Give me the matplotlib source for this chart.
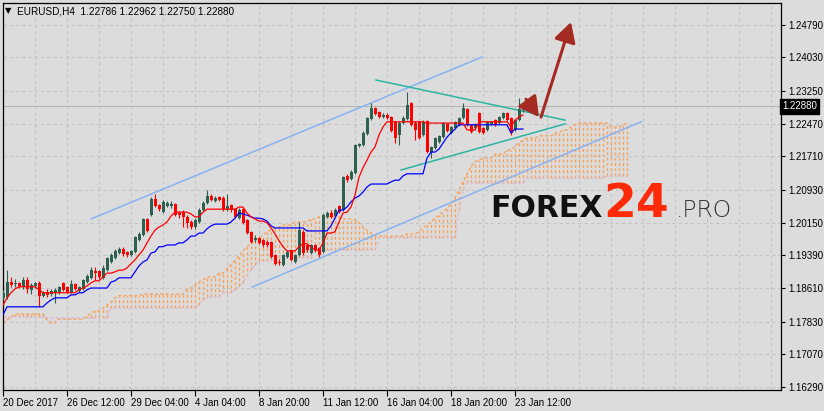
import matplotlib

matplotlib.use("Agg")
import matplotlib.pyplot as plt
import numpy as np

BG = "#dcdcdc"
GRID = "#c2c2c2"
BULL = "#2e5f4f"
BEAR = "#ff0000"

header_text = "EURUSD,H4  1.22786 1.22962 1.22750 1.22880"
last_price = 1.22880

date_ticks = [0, 16, 32, 48, 64, 80, 96, 112, 128]
date_labels = ["20 Dec 2017", "26 Dec 12:00", "29 Dec 04:00", "4 Jan 04:00", "8 Jan 20:00",
               "11 Jan 12:00", "16 Jan 04:00", "18 Jan 20:00", "23 Jan 12:00"]
price_ticks = [1.16290, 1.17070, 1.17830, 1.18610, 1.19390, 1.20150,
               1.20930, 1.21710, 1.22470, 1.23250, 1.24030, 1.24790]

opens = [
    1.1839, 1.1841, 1.1876, 1.1872, 1.1874, 1.1865, 1.1881, 1.1858, 1.1867, 1.1874,
    1.1844, 1.1853, 1.1848, 1.1851, 1.1851, 1.1874, 1.1865, 1.1853, 1.1872, 1.1855,
    1.1860, 1.1876, 1.1886, 1.1902, 1.1902, 1.1886, 1.1904, 1.1923, 1.1933, 1.1944,
    1.1954, 1.1947, 1.1940, 1.1947, 1.1975, 1.1987, 1.2024, 1.2033, 1.2071, 1.2057,
    1.2040, 1.2054, 1.2054, 1.2059, 1.2038, 1.2040, 1.2029, 1.2017, 1.2005, 1.2017,
    1.2045, 1.2061, 1.2078, 1.2066, 1.2075, 1.2073, 1.2045, 1.2057, 1.2047, 1.2026,
    1.2047, 1.2022, 1.1994, 1.1975, 1.1980, 1.1975, 1.1970, 1.1970, 1.1940, 1.1923,
    1.1916, 1.1935, 1.1951, 1.1923, 1.1940, 1.1994, 1.1963, 1.1944, 1.1963, 1.1956,
    1.1947, 1.2029, 1.2038, 1.2031, 1.2054, 1.2045, 1.2125, 1.2118, 1.2132, 1.2195,
    1.2198, 1.2223, 1.2259, 1.2284, 1.2275, 1.2263, 1.2268, 1.2263, 1.2252, 1.2221,
    1.2249, 1.2259, 1.2296, 1.2249, 1.2252, 1.2221, 1.2254, 1.2181, 1.2190, 1.2205,
    1.2216, 1.2247, 1.2226, 1.2237, 1.2245, 1.2261, 1.2282, 1.2245, 1.2237, 1.2273,
    1.2237, 1.2233, 1.2247, 1.2256, 1.2249, 1.2261, 1.2273, 1.2261, 1.2233, 1.2256,
    1.22786,
]
highs = [
    1.1858, 1.1904, 1.1888, 1.1883, 1.1876, 1.1888, 1.1888, 1.1874, 1.1876, 1.1879,
    1.1855, 1.1860, 1.1860, 1.1862, 1.1867, 1.1876, 1.1867, 1.1881, 1.1874, 1.1867,
    1.1883, 1.1895, 1.1912, 1.1912, 1.1904, 1.1916, 1.1935, 1.1944, 1.1954, 1.1959,
    1.1959, 1.1949, 1.1951, 1.1984, 1.1994, 1.2026, 1.2026, 1.2075, 1.2082, 1.2059,
    1.2068, 1.2066, 1.2066, 1.2061, 1.2043, 1.2045, 1.2033, 1.2022, 1.2026, 1.2050,
    1.2066, 1.2092, 1.2082, 1.2078, 1.2078, 1.2078, 1.2082, 1.2059, 1.2050, 1.2050,
    1.2050, 1.2024, 1.1996, 1.1987, 1.1982, 1.1977, 1.1975, 1.1973, 1.1942, 1.1930,
    1.1942, 1.1951, 1.1954, 1.1942, 1.2017, 1.1998, 1.1966, 1.1966, 1.1966, 1.1959,
    1.2038, 1.2043, 1.2045, 1.2050, 1.2057, 1.2125, 1.2130, 1.2139, 1.2200, 1.2202,
    1.2230, 1.2263, 1.2296, 1.2287, 1.2277, 1.2273, 1.2273, 1.2266, 1.2254, 1.2254,
    1.2266, 1.2322, 1.2298, 1.2254, 1.2254, 1.2256, 1.2256, 1.2195, 1.2216, 1.2221,
    1.2252, 1.2249, 1.2242, 1.2254, 1.2263, 1.2296, 1.2284, 1.2247, 1.2249, 1.2275,
    1.2240, 1.2254, 1.2254, 1.2259, 1.2266, 1.2275, 1.2275, 1.2263, 1.2259, 1.2308,
    1.22962,
]
lows = [
    1.1834, 1.1836, 1.1865, 1.1865, 1.1862, 1.1860, 1.1851, 1.1848, 1.1862, 1.1818,
    1.1841, 1.1841, 1.1844, 1.1827, 1.1848, 1.1855, 1.1851, 1.1851, 1.1858, 1.1853,
    1.1858, 1.1874, 1.1883, 1.1881, 1.1883, 1.1883, 1.1902, 1.1921, 1.1930, 1.1942,
    1.1937, 1.1935, 1.1937, 1.1944, 1.1973, 1.1984, 1.1994, 1.2031, 1.2052, 1.2043,
    1.2038, 1.2052, 1.2050, 1.2031, 1.2026, 1.2005, 1.2003, 1.2001, 1.2001, 1.2015,
    1.2043, 1.2059, 1.2066, 1.2064, 1.2066, 1.2043, 1.2043, 1.2040, 1.2026, 1.2024,
    1.2012, 1.1989, 1.1968, 1.1970, 1.1966, 1.1959, 1.1959, 1.1933, 1.1916, 1.1916,
    1.1914, 1.1933, 1.1926, 1.1921, 1.1937, 1.1940, 1.1947, 1.1942, 1.1947, 1.1935,
    1.1944, 1.2026, 1.2026, 1.2029, 1.2038, 1.2043, 1.2111, 1.2115, 1.2130, 1.2193,
    1.2195, 1.2221, 1.2256, 1.2268, 1.2261, 1.2261, 1.2259, 1.2228, 1.2202, 1.2198,
    1.2247, 1.2256, 1.2242, 1.2209, 1.2212, 1.2219, 1.2179, 1.2167, 1.2188, 1.2202,
    1.2214, 1.2228, 1.2223, 1.2235, 1.2242, 1.2259, 1.2242, 1.2226, 1.2233, 1.2226,
    1.2223, 1.2230, 1.2245, 1.2242, 1.2247, 1.2259, 1.2254, 1.2221, 1.2230, 1.2254,
    1.22750,
]
closes = [
    1.1851, 1.1876, 1.1869, 1.1874, 1.1867, 1.1881, 1.1860, 1.1869, 1.1874, 1.1844,
    1.1851, 1.1846, 1.1855, 1.1858, 1.1865, 1.1858, 1.1853, 1.1872, 1.1860, 1.1865,
    1.1881, 1.1890, 1.1904, 1.1897, 1.1888, 1.1909, 1.1933, 1.1940, 1.1949, 1.1954,
    1.1942, 1.1940, 1.1949, 1.1982, 1.1989, 1.2024, 1.1996, 1.2071, 1.2054, 1.2047,
    1.2064, 1.2061, 1.2059, 1.2033, 1.2033, 1.2029, 1.2015, 1.2005, 1.2022, 1.2045,
    1.2061, 1.2078, 1.2068, 1.2073, 1.2068, 1.2047, 1.2054, 1.2045, 1.2029, 1.2045,
    1.2015, 1.1991, 1.1970, 1.1980, 1.1968, 1.1963, 1.1963, 1.1935, 1.1919, 1.1921,
    1.1940, 1.1947, 1.1928, 1.1940, 1.1998, 1.1944, 1.1951, 1.1963, 1.1951, 1.1940,
    1.2033, 1.2038, 1.2029, 1.2045, 1.2040, 1.2122, 1.2115, 1.2134, 1.2198, 1.2200,
    1.2226, 1.2261, 1.2284, 1.2270, 1.2263, 1.2268, 1.2261, 1.2230, 1.2214, 1.2249,
    1.2261, 1.2291, 1.2245, 1.2233, 1.2214, 1.2252, 1.2181, 1.2193, 1.2214, 1.2219,
    1.2249, 1.2230, 1.2240, 1.2252, 1.2261, 1.2284, 1.2245, 1.2228, 1.2247, 1.2228,
    1.2226, 1.2252, 1.2252, 1.2245, 1.2263, 1.2273, 1.2256, 1.2226, 1.2256, 1.2282,
    1.22880,
]

tenkan = [
    1.1822, 1.1839, 1.1851, 1.1860, 1.1865, 1.1865, 1.1865, 1.1865, 1.1865, 1.1858,
    1.1851, 1.1851, 1.1851, 1.1851, 1.1851, 1.1851, 1.1851, 1.1851, 1.1851, 1.1858,
    1.1862, 1.1867, 1.1874, 1.1879, 1.1879, 1.1888, 1.1897, 1.1897, 1.1900, 1.1904,
    1.1904, 1.1909, 1.1919, 1.1928, 1.1940, 1.1951, 1.1968, 1.1984, 1.1998, 1.2005,
    1.2010, 1.2017, 1.2031, 1.2040, 1.2040, 1.2040, 1.2040, 1.2036, 1.2029, 1.2029,
    1.2040, 1.2047, 1.2047, 1.2047, 1.2047, 1.2047, 1.2047, 1.2047, 1.2047, 1.2052,
    1.2052, 1.2038, 1.2029, 1.2024, 1.2019, 1.2019, 1.2015, 1.2003, 1.1989, 1.1973,
    1.1959, 1.1949, 1.1949, 1.1949, 1.1959, 1.1966, 1.1966, 1.1959, 1.1951, 1.1951,
    1.1968, 1.1991, 1.1991, 1.1994, 1.2017, 1.2038, 1.2040, 1.2052, 1.2080, 1.2122,
    1.2144, 1.2162, 1.2181, 1.2193, 1.2221, 1.2240, 1.2252, 1.2252, 1.2252, 1.2252,
    1.2252, 1.2252, 1.2252, 1.2252, 1.2252, 1.2252, 1.2249, 1.2249, 1.2249, 1.2249,
    1.2249, 1.2249, 1.2249, 1.2249, 1.2249, 1.2249, 1.2233, 1.2233, 1.2233, 1.2252,
    1.2252, 1.2252, 1.2252, 1.2252, 1.2252, 1.2252, 1.2252, 1.2240, 1.2256, 1.2263,
    1.2268,
]
kijun = [
    1.1799, 1.1818, 1.1818, 1.1818, 1.1818, 1.1818, 1.1818, 1.1818, 1.1818, 1.1818,
    1.1818, 1.1827, 1.1834, 1.1839, 1.1839, 1.1839, 1.1839, 1.1846, 1.1846, 1.1851,
    1.1851, 1.1858, 1.1862, 1.1862, 1.1862, 1.1862, 1.1862, 1.1876, 1.1879, 1.1886,
    1.1886, 1.1886, 1.1886, 1.1900, 1.1914, 1.1923, 1.1928, 1.1944, 1.1947, 1.1959,
    1.1959, 1.1963, 1.1963, 1.1963, 1.1968, 1.1968, 1.1975, 1.1984, 1.1984, 1.1991,
    1.1991, 1.2001, 1.2008, 1.2012, 1.2012, 1.2012, 1.2012, 1.2017, 1.2026, 1.2038,
    1.2036, 1.2033, 1.2029, 1.2026, 1.2026, 1.2024, 1.2019, 1.2008, 1.2003, 1.2003,
    1.2003, 1.2003, 1.2003, 1.2003, 1.2003, 1.2003, 1.1996, 1.1996, 1.1996, 1.1996,
    1.1996, 1.1996, 1.2008, 1.2026, 1.2045, 1.2045, 1.2052, 1.2064, 1.2073, 1.2078,
    1.2087, 1.2099, 1.2106, 1.2106, 1.2106, 1.2106, 1.2106, 1.2111, 1.2115, 1.2115,
    1.2125, 1.2130, 1.2130, 1.2130, 1.2130, 1.2130, 1.2167, 1.2181, 1.2181, 1.2188,
    1.2202, 1.2216, 1.2226, 1.2235, 1.2245, 1.2245, 1.2245, 1.2245, 1.2245, 1.2245,
    1.2245, 1.2245, 1.2245, 1.2245, 1.2245, 1.2245, 1.2245, 1.2226, 1.2235, 1.2235,
    1.2235,
]
# cloud lines run 26 bars past the last candle
senkou_a = [
    1.1780, 1.1787, 1.1794, 1.1801, 1.1801, 1.1801, 1.1801, 1.1801, 1.1801, 1.1801,
    1.1801, 1.1787, 1.1780, 1.1780, 1.1789, 1.1789, 1.1789, 1.1789, 1.1789, 1.1789,
    1.1789, 1.1796, 1.1803, 1.1808, 1.1808, 1.1815, 1.1822, 1.1829, 1.1839, 1.1844,
    1.1844, 1.1844, 1.1844, 1.1844, 1.1844, 1.1848, 1.1848, 1.1848, 1.1848, 1.1848,
    1.1848, 1.1848, 1.1848, 1.1848, 1.1848, 1.1848, 1.1858, 1.1862, 1.1869, 1.1876,
    1.1881, 1.1888, 1.1888, 1.1888, 1.1897, 1.1897, 1.1907, 1.1916, 1.1928, 1.1937,
    1.1949, 1.1959, 1.1966, 1.1973, 1.1980, 1.1987, 1.1994, 1.1998, 1.2003, 1.2005,
    1.2010, 1.2010, 1.2010, 1.2017, 1.2017, 1.2017, 1.2017, 1.2024, 1.2024, 1.2029,
    1.2029, 1.2029, 1.2029, 1.2029, 1.2029, 1.2024, 1.2024, 1.2024, 1.2022, 1.2015,
    1.2005, 1.1998, 1.1991, 1.1984, 1.1984, 1.1984, 1.1984, 1.1984, 1.1984, 1.1984,
    1.1984, 1.1989, 1.1989, 1.1989, 1.1994, 1.2003, 1.2010, 1.2017, 1.2026, 1.2033,
    1.2040, 1.2050, 1.2059, 1.2073, 1.2092, 1.2111, 1.2130, 1.2148, 1.2158, 1.2162,
    1.2167, 1.2167, 1.2167, 1.2176, 1.2176, 1.2176, 1.2186, 1.2186, 1.2195, 1.2202,
    1.2209, 1.2214, 1.2214, 1.2214, 1.2219, 1.2219, 1.2219, 1.2219, 1.2226, 1.2226,
    1.2233, 1.2233, 1.2240, 1.2245, 1.2249, 1.2249, 1.2249, 1.2249, 1.2249, 1.2249,
    1.2249, 1.2249, 1.2240, 1.2240, 1.2240, 1.2245, 1.2249,
]
senkou_b = [
    1.1794, 1.1794, 1.1794, 1.1794, 1.1794, 1.1794, 1.1794, 1.1794, 1.1794, 1.1794,
    1.1794, 1.1792, 1.1792, 1.1792, 1.1792, 1.1792, 1.1792, 1.1792, 1.1792, 1.1792,
    1.1792, 1.1792, 1.1792, 1.1792, 1.1792, 1.1792, 1.1792, 1.1815, 1.1815, 1.1815,
    1.1815, 1.1815, 1.1815, 1.1815, 1.1815, 1.1815, 1.1815, 1.1815, 1.1815, 1.1815,
    1.1815, 1.1815, 1.1815, 1.1815, 1.1815, 1.1815, 1.1815, 1.1815, 1.1815, 1.1822,
    1.1834, 1.1841, 1.1841, 1.1841, 1.1841, 1.1851, 1.1851, 1.1851, 1.1858, 1.1867,
    1.1874, 1.1890, 1.1904, 1.1916, 1.1926, 1.1926, 1.1926, 1.1926, 1.1933, 1.1933,
    1.1933, 1.1933, 1.1933, 1.1933, 1.1933, 1.1933, 1.1933, 1.1933, 1.1951, 1.1951,
    1.1951, 1.1951, 1.1951, 1.1951, 1.1951, 1.1951, 1.1951, 1.1951, 1.1951, 1.1951,
    1.1951, 1.1951, 1.1951, 1.1951, 1.1980, 1.1980, 1.1980, 1.1980, 1.1980, 1.1980,
    1.1980, 1.1980, 1.1980, 1.1980, 1.1980, 1.1980, 1.1980, 1.1980, 1.1980, 1.1980,
    1.1980, 1.1980, 1.1980, 1.1980, 1.2045, 1.2092, 1.2108, 1.2108, 1.2108, 1.2108,
    1.2108, 1.2108, 1.2108, 1.2108, 1.2108, 1.2108, 1.2108, 1.2108, 1.2108, 1.2108,
    1.2108, 1.2120, 1.2120, 1.2120, 1.2120, 1.2120, 1.2120, 1.2120, 1.2120, 1.2120,
    1.2120, 1.2120, 1.2120, 1.2120, 1.2120, 1.2120, 1.2120, 1.2120, 1.2120, 1.2120,
    1.2120, 1.2125, 1.2125, 1.2125, 1.2125, 1.2125, 1.2125,
]

# hand-drawn objects: (bar, price) end points
channel_top = ([22.0, 119.75], [1.2024, 1.2404])
channel_bottom = ([62.25, 159.5], [1.1864, 1.2252])
triangle_top = ([93.25, 140.5], [1.2350, 1.2256])
triangle_bottom = ([99.5, 140.5], [1.2139, 1.2247])
arrow_short = ((130.75, 1.2305), (134.0, 1.2263))
arrow_long = ((134.5, 1.2263), (142.0, 1.2486))


def draw_candles(ax):
    o, h, l, c = (np.array(v) for v in (opens, highs, lows, closes))
    x = np.arange(len(c))
    up = c >= o
    for mask, colour in ((up, BULL), (~up, BEAR)):
        ax.vlines(x[mask], l[mask], h[mask], color=colour, lw=0.8, zorder=4)
        bottom = np.minimum(o, c)[mask]
        height = np.maximum(np.abs(c - o)[mask], 0.00022)
        ax.bar(x[mask], height, 0.75, bottom=bottom, color=colour, lw=0, zorder=5)


def draw_ichimoku(ax):
    a = np.array(senkou_a)
    b = np.array(senkou_b)
    xc = np.arange(len(a))
    cols = np.where(a >= b, "#f4a460", "#d8bfd8")
    ax.vlines(xc, np.minimum(a, b), np.maximum(a, b), colors=cols,
              linestyles=(0, (2.2, 1.6)), lw=1.0, zorder=2)
    ax.plot(xc, b, color="#d8bfd8", lw=1.0, ls=(0, (2.2, 1.6)), zorder=2)
    ax.plot(xc, a, color="#f4a460", lw=1.0, ls=(0, (2.2, 1.6)), zorder=2)
    xs = np.arange(len(tenkan))
    ax.plot(xs, kijun, color="#0000ff", lw=0.9, zorder=6)
    ax.plot(xs, tenkan, color="#ff0000", lw=0.9, zorder=6)


def draw_objects(ax):
    for line in (channel_top, channel_bottom):
        ax.plot(*line, color="#88b2f2", lw=1.1, zorder=3)
    for line in (triangle_top, triangle_bottom):
        ax.plot(*line, color="#2bb5a3", lw=1.1, zorder=3)
    for start, tip in (arrow_short, arrow_long):
        ax.annotate("", xy=tip, xytext=start, zorder=8,
                    arrowprops=dict(arrowstyle="-|>,head_length=0.6,head_width=0.33",
                                    color="#a52a22", lw=2.2, mutation_scale=20,
                                    shrinkA=0, shrinkB=0))


plt.rcParams["font.family"] = ["Liberation Sans", "DejaVu Sans"]

fig = plt.figure(figsize=(8.24, 4.11), dpi=100, facecolor=BG)
ax = fig.add_axes([3 / 824, 21 / 411, 778 / 824, 387 / 411], facecolor=BG)
ax.set_xlim(0, 194.5)
ax.set_ylim(1.16228, 1.25307)

ax.set_xticks(range(0, 195, 8), minor=True)
ax.set_xticks(date_ticks)
ax.set_xticklabels(date_labels, ha="left")
ax.set_yticks(price_ticks)
ax.set_yticklabels([f"{p:.5f}" for p in price_ticks])
ax.yaxis.tick_right()
ax.tick_params(axis="x", which="major", length=4, width=0.8, pad=2, labelsize=7)
ax.tick_params(axis="x", which="minor", length=0)
ax.tick_params(axis="y", length=3, width=0.8, pad=2, labelsize=7)
ax.grid(True, axis="x", which="both", color=GRID, ls=(0, (3, 3)), lw=0.75)
ax.grid(True, axis="y", which="major", color=GRID, ls=(0, (3, 3)), lw=0.75)
ax.set_axisbelow(True)
for spine in ax.spines.values():
    spine.set_color("black")
    spine.set_linewidth(0.9)

ax.axhline(last_price, color="#b4b4b4", lw=0.75, zorder=1)

draw_ichimoku(ax)
draw_candles(ax)
draw_objects(ax)

ax.text(1.0015, last_price, f"{last_price:.5f}", transform=ax.get_yaxis_transform(),
        ha="left", va="center", color="white", fontsize=7, clip_on=False,
        bbox=dict(boxstyle="square,pad=0.22", fc="black", ec="black"))

fig.text(5 / 824, 1 - 13 / 411, "\u25bc", fontsize=6, family="DejaVu Sans", va="baseline")
fig.text(17 / 824, 1 - 14 / 411, header_text, fontsize=7.2, va="baseline")

# site watermark
fig.text(490 / 824, 1 - 217 / 411, "FOREX", fontsize=21.5, fontweight="bold",
         family="DejaVu Sans", color="#111111", va="baseline", zorder=10)
fig.text(603 / 824, 1 - 217 / 411, "24", fontsize=34, fontweight="bold",
         family="DejaVu Sans", color="#fe2a0a", va="baseline", zorder=10)
fig.text(676 / 824, 1 - 217 / 411, ".PRO", fontsize=16.8, fontweight="light",
         family="DejaVu Sans", color="#333333", va="baseline", zorder=10)

fig.savefig("out.png", dpi=100, facecolor=BG)
